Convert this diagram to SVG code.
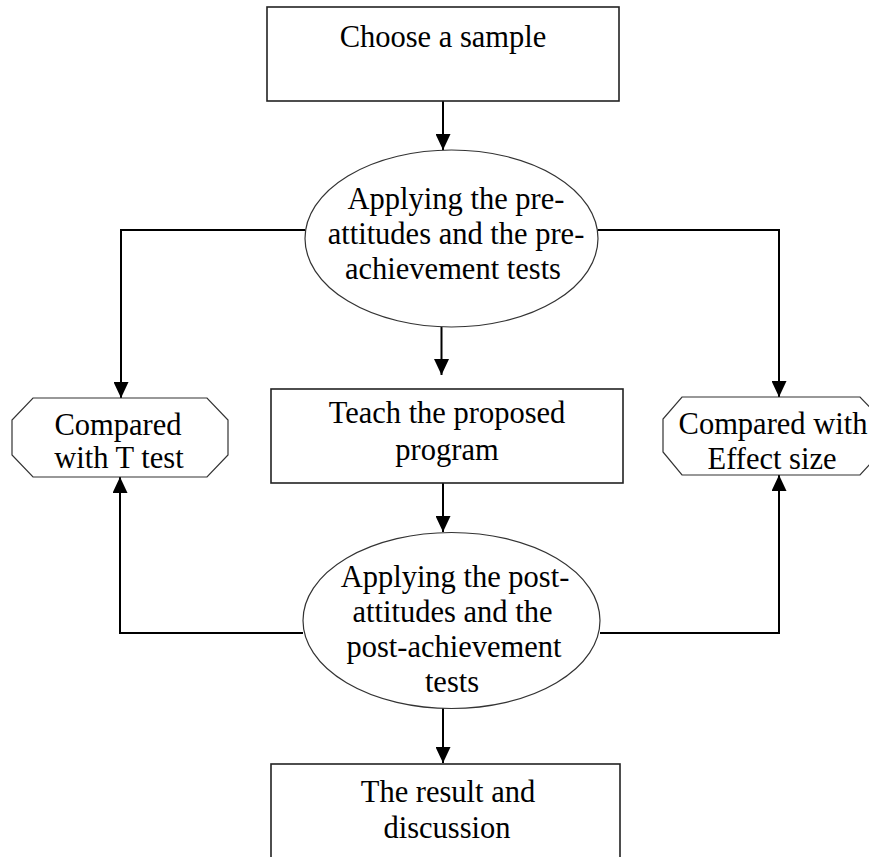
<svg xmlns="http://www.w3.org/2000/svg" width="869" height="857" viewBox="0 0 869 857">
<defs>
<style>
.box{fill:#fff;stroke:#222;stroke-width:1.6}
.ell{fill:#fff;stroke:#333;stroke-width:1.2}
.oct{fill:#fff;stroke:#333;stroke-width:1.2}
.con{fill:none;stroke:#000;stroke-width:2}
.t{font-family:"Liberation Serif","Times New Roman",serif;font-size:30.5px;fill:#000;text-anchor:middle}
</style>
<marker id="ah" viewBox="0 0 16 15" refX="16" refY="7.5" markerWidth="16" markerHeight="15" markerUnits="userSpaceOnUse" orient="auto">
<path d="M0,0 L16,7.5 L0,15 Z" fill="#000"/>
</marker>
</defs>
<rect width="869" height="857" fill="#fff"/>
<g id="connectors">
<line class="con" x1="443" y1="101" x2="443" y2="150" marker-end="url(#ah)"/>
<line class="con" x1="441.5" y1="327" x2="441.5" y2="375" marker-end="url(#ah)"/>
<line class="con" x1="443" y1="483" x2="443" y2="532" marker-end="url(#ah)"/>
<line class="con" x1="443" y1="708" x2="443" y2="763" marker-end="url(#ah)"/>
<polyline class="con" points="305,230 121,230 121,398" marker-end="url(#ah)"/>
<polyline class="con" points="598,230 779,230 779,397" marker-end="url(#ah)"/>
<polyline class="con" points="303,633 120,633 120,477" marker-end="url(#ah)"/>
<polyline class="con" points="600,633 779,633 779,475" marker-end="url(#ah)"/>
</g>
<g id="choose">
<rect class="box" x="267" y="7" width="352" height="94"/>
<text class="t" x="443" y="47">Choose a sample</text>
</g>
<g id="pre">
<ellipse class="ell" cx="451.5" cy="238.5" rx="146.5" ry="88.5"/>
<text class="t" x="456" y="209">Applying the pre-</text>
<text class="t" x="456" y="244">attitudes and the pre-</text>
<text class="t" x="453" y="279">achievement tests</text>
</g>
<g id="teach">
<rect class="box" x="271" y="389" width="352" height="94"/>
<text class="t" x="447" y="423">Teach the proposed</text>
<text class="t" x="447" y="460">program</text>
</g>
<g id="ttest">
<polygon class="oct" points="33,398 207,398 228,420 228,455 207,477 33,477 12,455 12,420"/>
<text class="t" x="118" y="435">Compared</text>
<text class="t" x="119" y="468">with T test</text>
</g>
<g id="effect">
<polygon class="oct" points="682,397 860,397 881,419 881,452 860,475 682,475 663,452 663,419"/>
<text class="t" x="773" y="434">Compared with</text>
<text class="t" x="772" y="469">Effect size</text>
</g>
<g id="post">
<ellipse class="ell" cx="451.5" cy="620.5" rx="148.5" ry="88"/>
<text class="t" x="455" y="587">Applying the post-</text>
<text class="t" x="452.5" y="622">attitudes and the</text>
<text class="t" x="454" y="657">post-achievement</text>
<text class="t" x="452" y="692">tests</text>
</g>
<g id="result">
<rect class="box" x="271" y="764" width="349" height="110"/>
<text class="t" x="448" y="802">The result and</text>
<text class="t" x="447" y="838">discussion</text>
</g>
</svg>
